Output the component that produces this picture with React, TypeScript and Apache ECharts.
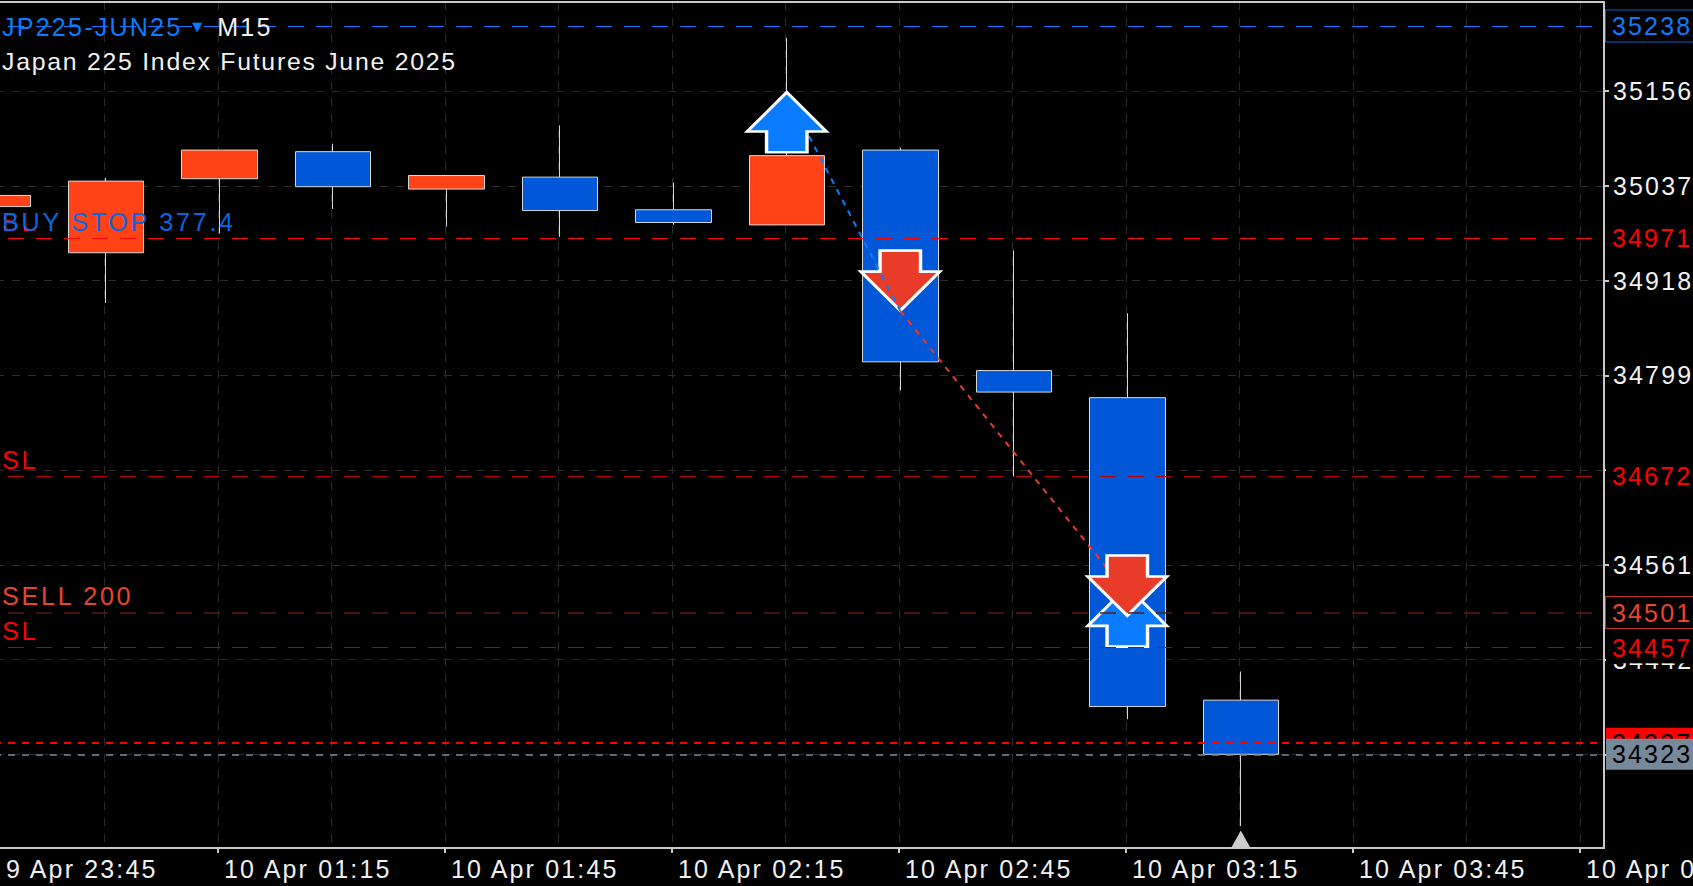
import React, { useEffect, useRef } from "react";
import * as echarts from "echarts";

// [bar index, open, close, low, high]
const candles = [
  [0, 35011, 35025, 35011, 35025],
  [1, 34953, 35043, 34890, 35047],
  [2, 35046, 35082, 34977, 35082],
  [3, 35080, 35036, 35008, 35090],
  [4, 35033, 35050, 34986, 35050],
  [5, 35048, 35006, 34973, 35113],
  [6, 35007, 34991, 34988, 35041],
  [7, 34988, 35075, 34988, 35223],
  [8, 35082, 34816, 34780, 35085],
  [9, 34805, 34778, 34672, 34956],
  [10, 34771, 34383, 34367, 34877],
  [11, 34391, 34323, 34233, 34427],
];
const gridPrices = [35156, 35037, 34918, 34799, 34680, 34561, 34442, 34323];
const timeTickBars = [0, 2, 4, 6, 8, 10, 12, 14];
const timeTickLabels = [
  "9 Apr 23:45",
  "10 Apr 01:15",
  "10 Apr 01:45",
  "10 Apr 02:15",
  "10 Apr 02:45",
  "10 Apr 03:15",
  "10 Apr 03:45",
  "10 Apr 04:15",
];
const allBars = [0, 1, 2, 3, 4, 5, 6, 7, 8, 9, 10, 11, 12, 13, 14];
const buyArrows = [[7, 35117], [10, 34496]];
const sellArrowFirst = [[8, 34918]];
const sellArrowLast = [[10, 34535]];
const buyTrade = [[7, 35153], [8, 34880]];
const sellTrade = [[8, 34880], [10, 34525]];
const lastBarMark = [[11, 34216]];

const FONT = "Liberation Sans";
const BLUE = "#0A7CFF";
const GRID = "#2b2b2b";
const FRAME = "#c9c9c9";
const GRID_SHIFT = -0.012;
const X_MIN = -0.108;
const X_MAX = 14.2;

const UP_ARROW = "path://M41 0 L82 40 L62 40 L62 61 L20 61 L20 40 L0 40 Z";
const DOWN_ARROW = "path://M20 0 L62 0 L62 22 L82 22 L41 63 L0 22 L20 22 Z";

const TRACKING_CSS = `
text[style*="25px"] { letter-spacing: 2.15px; }
text[style*="25.2px"] { letter-spacing: 2.7px; }
text[style*="25.1px"] { letter-spacing: 2.2px; }
text[style*="24.8px"] { letter-spacing: 1.75px; }
`;

function tag(text: string, color: string, bg: string, border: string, textColor?: string) {
  return {
    show: true,
    position: "end",
    distance: 2,
    formatter: text,
    color: textColor || color,
    fontFamily: FONT,
    fontSize: 25,
    lineHeight: 33,
    height: 31,
    width: 120,
    align: "left",
    padding: [0, 0, 0, 6],
    backgroundColor: bg,
    borderColor: border,
    borderWidth: border === "transparent" ? 0 : 1,
  };
}

function level(
  price: number,
  lineColor: string,
  type: any,
  width: number,
  label: any,
) {
  return { yAxis: price, lineStyle: { color: lineColor, type, width }, label };
}

function note(price: number, text: string, color: string) {
  return {
    yAxis: price,
    lineStyle: { color: "rgba(0,0,0,0)", width: 1 },
    label: {
      show: true,
      position: "insideStartTop",
      distance: 4,
      formatter: text,
      color,
      fontFamily: FONT,
      fontSize: 25.2,
      align: "left",
      padding: [0, 0, 0, 18],
    },
  };
}

export default function App() {
  const ref = useRef<HTMLDivElement>(null);
  useEffect(() => {
    document.body.style.margin = "0";
    document.body.style.background = "#000";
    const chart = echarts.init(ref.current, undefined, { renderer: "svg" });
    const gridValues = allBars.map((b) => b + GRID_SHIFT);
    const tickValues = timeTickBars.map((b) => b + GRID_SHIFT);
    const dashLong = [16, 12];
    const headFont = { fontFamily: FONT, fontSize: 25.1, fontWeight: "normal" };
    chart.setOption({
      animation: false,
      backgroundColor: "#000",
      title: [
        {
          left: 2,
          top: 14,
          padding: 0,
          text: "{a|JP225-JUN25}{b|▼}{c|M15}",
          textStyle: {
            rich: {
              a: { color: BLUE, ...headFont },
              b: {
                color: BLUE,
                fontFamily: "DejaVu Sans",
                fontSize: 13,
                fontWeight: "normal",
                padding: [0, 15, 0, 34],
              },
              c: { color: "#f2f2f2", ...headFont },
            },
          },
          z: 20,
        },
        {
          left: 2,
          top: 49,
          padding: 0,
          text: "Japan 225 Index Futures June 2025",
          textStyle: {
            color: "#f2f2f2",
            fontFamily: FONT,
            fontSize: 24.8,
            fontWeight: "normal",
          },
          z: 20,
        },
      ],
      grid: {
        left: -20,
        right: 89,
        top: 2,
        bottom: 38,
        containLabel: false,
        outerBoundsMode: "none",
      },
      xAxis: [
        {
          type: "value",
          position: "top",
          min: X_MIN,
          max: X_MAX,
          axisLine: { show: true, onZero: false, lineStyle: { color: FRAME, width: 2 } },
          axisTick: { show: false, customValues: gridValues },
          axisLabel: { show: false },
          splitLine: { show: true, lineStyle: { color: GRID, type: [8, 8], width: 1 } },
        },
        {
          type: "value",
          position: "bottom",
          min: X_MIN,
          max: X_MAX,
          axisLine: { show: true, onZero: false, lineStyle: { color: FRAME, width: 2 } },
          axisTick: {
            show: true,
            inside: false,
            length: 5,
            customValues: tickValues,
            lineStyle: { color: FRAME, width: 2 },
          },
          axisLabel: {
            show: true,
            customValues: tickValues,
            margin: 8,
            align: "left",
            color: "#f0f0f0",
            fontFamily: FONT,
            fontSize: 25,
            padding: [0, 0, 0, 6],
            formatter: (v: number) => {
              const i = timeTickBars.indexOf(Math.round(v));
              return (i === 0 ? "\u00A0" : "") + timeTickLabels[i];
            },
          },
          splitLine: { show: false },
        },
      ],
      yAxis: {
        type: "value",
        position: "right",
        min: 34205.3,
        max: 35268,
        axisLine: { show: true, onZero: false, lineStyle: { color: FRAME, width: 2 } },
        axisTick: {
          show: true,
          length: 5,
          customValues: gridPrices,
          lineStyle: { color: FRAME, width: 2 },
        },
        axisLabel: {
          show: true,
          customValues: gridPrices,
          margin: 9,
          color: "#f0f0f0",
          fontFamily: FONT,
          fontSize: 25,
          formatter: (v: number) => String(v),
        },
        splitLine: { show: true, lineStyle: { color: GRID, type: [8, 8], width: 1 } },
      },
      series: [
        {
          type: "candlestick",
          name: "JP225-JUN25",
          xAxisIndex: 1,
          z: 2,
          data: candles,
          barWidth: 76,
          itemStyle: {
            color: "#FF4316",
            color0: "#0058D8",
            borderColor: "#d8d8d8",
            borderColor0: "#d8d8d8",
            borderWidth: 1,
          },
          markLine: {
            silent: true,
            symbol: "none",
            z: 8,
            data: [
              level(35238, BLUE, dashLong, 1, tag("35238", BLUE, "#000", "#0A5FC4")),
              level(34971, "#ff0000", dashLong, 1.2, tag("34971", "#ff0000", "#000", "transparent")),
              level(34672, "#b80000", dashLong, 1, tag("34672", "#ff0000", "#000", "transparent")),
              level(34501, "#5c1a12", dashLong, 1.5, tag("34501", "#E8452C", "#000", "#C03020")),
              level(34457, "#a00c0c", dashLong, 1, tag("34457", "#ff0000", "#000", "transparent")),
              level(34337, "#ff0000", [7, 7], 2, tag("34337", "#ff0000", "#ff0000", "transparent", "#000")),
              level(34323, "#778899", [7, 7], 1.5, tag("34323", "#778899", "#778899", "transparent", "#000")),
              note(34971, "SL", "#ff0000"),
              note(34971, "BUY STOP 377.4", "#0A66E0"),
              note(34672, "SL", "#ff0000"),
              note(34501, "SELL 200", "#E8452C"),
              note(34457, "SL", "#ff0000"),
            ],
          },
        },
        {
          type: "scatter",
          name: "sell-first",
          xAxisIndex: 1,
          z: 3,
          symbol: DOWN_ARROW,
          symbolSize: [79, 60],
          itemStyle: { color: "#E83C28", borderColor: "#fff", borderWidth: 3, opacity: 1 },
          data: sellArrowFirst,
        },
        {
          type: "line",
          name: "buy-trade",
          xAxisIndex: 1,
          z: 4,
          symbol: "none",
          lineStyle: { color: BLUE, type: [6, 6], width: 2 },
          data: buyTrade,
        },
        {
          type: "line",
          name: "sell-trade",
          xAxisIndex: 1,
          z: 4,
          symbol: "none",
          lineStyle: { color: "#E83C28", type: [6, 6], width: 2 },
          data: sellTrade,
        },
        {
          type: "scatter",
          name: "buy",
          xAxisIndex: 1,
          z: 5,
          symbol: UP_ARROW,
          symbolSize: [79, 60],
          itemStyle: { color: BLUE, borderColor: "#fff", borderWidth: 3, opacity: 1 },
          data: buyArrows,
        },
        {
          type: "scatter",
          name: "sell-last",
          xAxisIndex: 1,
          z: 6,
          symbol: DOWN_ARROW,
          symbolSize: [79, 60],
          itemStyle: { color: "#E83C28", borderColor: "#fff", borderWidth: 3, opacity: 1 },
          data: sellArrowLast,
        },
        {
          type: "scatter",
          name: "last-bar",
          xAxisIndex: 1,
          z: 6,
          symbol: "triangle",
          symbolSize: [20, 18],
          itemStyle: { color: "#cccccc", opacity: 1 },
          data: lastBarMark,
        },
      ],
    });
    return () => chart.dispose();
  }, []);
  return (
    <div ref={ref} style={{ width: 1693, height: 886, overflow: "hidden" }}>
      <style>{TRACKING_CSS}</style>
    </div>
  );
}
